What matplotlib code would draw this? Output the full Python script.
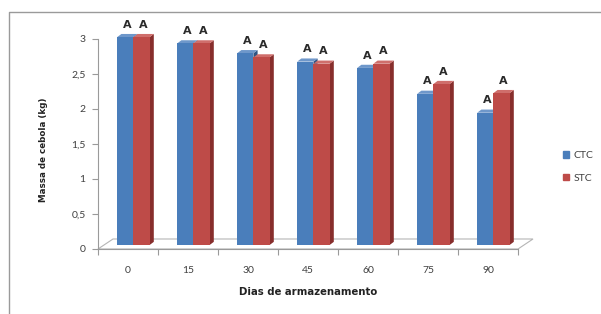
import matplotlib
matplotlib.use("Agg")
import matplotlib.pyplot as plt
from matplotlib.patches import Polygon, Rectangle
from matplotlib.lines import Line2D
import numpy as np

categories = ["0", "15", "30", "45", "60", "75", "90"]
ctc = [2.97, 2.88, 2.74, 2.62, 2.53, 2.16, 1.89]
stc = [2.97, 2.88, 2.68, 2.59, 2.59, 2.30, 2.17]
ctc_letters = ["A"] * 7
stc_letters = ["A"] * 7
yticks = [0, 0.5, 1, 1.5, 2, 2.5, 3]
ytick_labels = ["0", "0,5", "1", "1,5", "2", "2,5", "3"]

plt.rcParams['font.family'] = ['Lato', 'DejaVu Sans']

W, H = 601, 314
fig = plt.figure(figsize=(W / 100, H / 100), dpi=100)
# outer chart border (left and top edges visible in the crop)
fig.lines.append(Line2D([8.5 / W, 8.5 / W, 1.0], [0, 1 - 12 / H, 1 - 12 / H], transform=fig.transFigure,
                        color="#9a9a9a", linewidth=1.0))

ax_left, ax_right = 98, 518
y0_px, unit_px = 249, 70
ymax = 3.25
ax = fig.add_axes([ax_left / W, 1 - y0_px / H, (ax_right - ax_left) / W, ymax * unit_px / H])
ax.set_xlim(-0.5, len(categories) - 0.5)
ax.set_ylim(0, ymax)

blue, red = "#4A7EBB", "#BE4B48"
blue_side, red_side = "#2F5584", "#872E2C"
blue_top, red_top = "#6E97CA", "#CF6E6B"
w = 0.27
bx, by = 0.09, 0.057          # bars sit mid-depth on the floor
ddx, ddy = 0.07, 0.045        # bar depth
fx, fy = 0.25, 0.143          # floor depth

# floor
xl, xr = -0.5, len(categories) - 0.5
ax.add_patch(Polygon([(xl, 0), (xl + fx, fy), (xr + fx, fy), (xr, 0)], closed=True,
                     facecolor="none", edgecolor="#b5b5b5", linewidth=0.8, clip_on=False, zorder=1))

x = np.arange(len(categories))

def bar3d(xc, v, face, side, top, z):
    ax.bar(xc, v, width=w, bottom=by, color=face, zorder=z + 0.1)
    xa, xb = xc - w / 2, xc + w / 2
    yb, yt = by, by + v
    ax.add_patch(Polygon([(xb, yb), (xb + ddx, yb + ddy), (xb + ddx, yt + ddy), (xb, yt)], closed=True,
                         facecolor=side, edgecolor="none", clip_on=False, zorder=z))
    ax.add_patch(Polygon([(xa, yt), (xa + ddx, yt + ddy), (xb + ddx, yt + ddy), (xb, yt)], closed=True,
                         facecolor=top, edgecolor="none", clip_on=False, zorder=z))

for i in range(len(categories)):
    xc1 = x[i] - w / 2 + bx
    xc2 = x[i] + w / 2 + bx
    bar3d(xc1, ctc[i], blue, blue_side, blue_top, 2)
    bar3d(xc2, stc[i], red, red_side, red_top, 3)
    ax.text(xc1 + ddx / 2, by + ctc[i] + ddy + 0.06, ctc_letters[i], ha="center", va="bottom",
            fontsize=8, fontweight="bold", color="#2a2a2a", family="DejaVu Sans", zorder=5)
    ax.text(xc2 + ddx / 2, by + stc[i] + ddy + 0.06, stc_letters[i], ha="center", va="bottom",
            fontsize=8, fontweight="bold", color="#2a2a2a", family="DejaVu Sans", zorder=5)

ax.set_yticks(yticks)
ax.set_yticklabels(ytick_labels)
ax.set_xticks(x)
ax.set_xticklabels(categories)
ax.set_xticks(np.arange(len(categories) + 1) - 0.5, minor=True)
ax.tick_params(axis="x", which="major", length=0, pad=12, labelsize=7.5, labelcolor="#404040")
ax.tick_params(axis="x", which="minor", length=4, color="#9a9a9a", width=0.8)
ax.tick_params(axis="y", length=4, color="#9a9a9a", width=0.8, labelsize=7.5, labelcolor="#404040", pad=5)

for s in ["top", "right"]:
    ax.spines[s].set_visible(False)
ax.spines["left"].set_bounds(0, 3)
ax.spines["left"].set_color("#9a9a9a")
ax.spines["bottom"].set_color("#9a9a9a")
ax.patch.set_visible(False)

ax.set_xlabel("Dias de armazenamento", fontsize=7.3, fontweight="bold", family="DejaVu Sans",
              color="#222222", labelpad=9)
fig.text(43 / W, 1 - 150 / H, "Massa de cebola (kg)", rotation=90, ha="center", va="center",
         fontsize=6.3, fontweight="bold", family="DejaVu Sans", color="#222222")

leg = ax.legend(handles=[Rectangle((0, 0), 1, 1, color=blue), Rectangle((0, 0), 1, 1, color=red)],
                labels=["CTC", "STC"], loc="center left", bbox_to_anchor=(554 / W, 1 - 167 / H),
                bbox_transform=fig.transFigure, frameon=False, fontsize=7.5,
                handlelength=0.55, handleheight=0.55, handletextpad=0.4, labelspacing=1.3)
for t in leg.get_texts():
    t.set_color("#404040")

fig.savefig("out.png", dpi=100)
